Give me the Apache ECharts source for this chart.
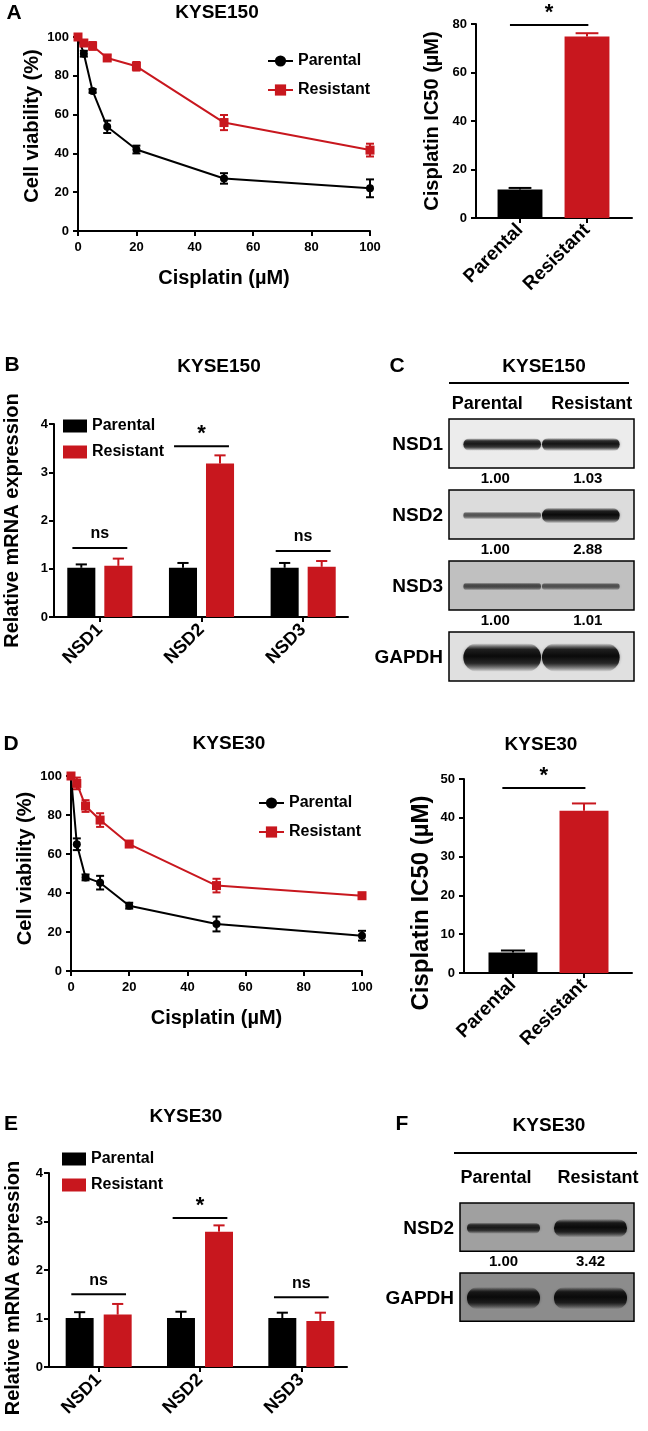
<!DOCTYPE html>
<html><head><meta charset="utf-8">
<script src="https://cdn.jsdelivr.net/npm/echarts@6/dist/echarts.min.js"></script>
<style>html,body{margin:0;padding:0;background:#fff}#c{width:648px;height:1431px}</style>
</head><body><div id="c"></div>
<script>
// ---------------- DATA ----------------
const doses = [0, 2, 5, 10, 20, 50, 100];
const kyse150ViabParental = [100, 91.4, 72.2, 53.7, 42.0, 27.1, 22.0];
const kyse150ViabParentalSEM = [0.5, 1.5, 1.0, 3.2, 2.0, 2.7, 4.6];
const kyse150ViabResistant = [100, 96.9, 95.4, 89.2, 84.9, 55.9, 41.7];
const kyse150ViabResistantSEM = [0.8, 1.0, 2.0, 1.5, 2.2, 3.9, 3.3];

const kyse30ViabParental = [100, 65.0, 48.0, 45.3, 33.5, 24.1, 18.1];
const kyse30ViabParentalSEM = [0.5, 3.0, 1.5, 3.5, 1.5, 3.8, 2.5];
const kyse30ViabResistant = [100, 96.2, 84.6, 77.4, 65.1, 43.8, 38.6];
const kyse30ViabResistantSEM = [1.0, 3.0, 3.0, 3.5, 1.5, 3.5, 1.5];

const groups = ['Parental', 'Resistant'];
const kyse150IC50 = [11.8, 74.8];
const kyse150IC50SEM = [0.6, 1.4];
const kyse30IC50 = [5.3, 41.8];
const kyse30IC50SEM = [0.5, 1.9];
const kyse150IC50Sig = [{a: 0, b: 1, y: 79.6, t: '*'}];
const kyse30IC50Sig = [{a: 0, b: 1, y: 47.7, t: '*'}];

const genes = ['NSD1', 'NSD2', 'NSD3'];
const kyse150MrnaParental = [1.02, 1.02, 1.02];
const kyse150MrnaParentalSEM = [0.07, 0.10, 0.10];
const kyse150MrnaResistant = [1.06, 3.18, 1.04];
const kyse150MrnaResistantSEM = [0.15, 0.17, 0.12];
const kyse150MrnaSig = [{a: 0, b: 0, y: 1.43, t: 'ns'}, {a: 1, b: 1, y: 3.54, t: '*'}, {a: 2, b: 2, y: 1.37, t: 'ns'}];

const kyse30MrnaParental = [1.01, 1.01, 1.01];
const kyse30MrnaParentalSEM = [0.12, 0.13, 0.11];
const kyse30MrnaResistant = [1.08, 2.79, 0.95];
const kyse30MrnaResistantSEM = [0.22, 0.13, 0.17];
const kyse30MrnaSig = [{a: 0, b: 0, y: 1.50, t: 'ns'}, {a: 1, b: 1, y: 3.07, t: '*'}, {a: 2, b: 2, y: 1.44, t: 'ns'}];

const blotCRows = ['NSD1', 'NSD2', 'NSD3', 'GAPDH'];
const blotCQuantParental = [1.00, 1.00, 1.00, null];
const blotCQuantResistant = [1.03, 2.88, 1.01, null];
const blotCSignalParental = [0.55, 0.30, 0.32, 1.00];
const blotCSignalResistant = [0.57, 0.66, 0.28, 1.00];
const blotCBackground = [236, 220, 192, 224];

const blotFRows = ['NSD2', 'GAPDH'];
const blotFQuantParental = [1.00, null];
const blotFQuantResistant = [3.42, null];
const blotFSignalParental = [0.50, 0.85];
const blotFSignalResistant = [0.75, 0.85];
const blotFBackground = [160, 140];

// ---------------- STYLE / BUILD ----------------
const F = 'Arial, "Liberation Sans", Helvetica, sans-serif';
const RED = '#C8171E';
const BLK = '#000000';
const grids = [], xAxes = [], yAxes = [], series = [], legends = [], graphics = [];
const addGrid = g => { grids.push(Object.assign({outerBoundsMode: 'none', containLabel: false}, g)); return grids.length - 1; };
const addX = a => { xAxes.push(a); return xAxes.length - 1; };
const addY = a => { yAxes.push(a); return yAxes.length - 1; };

const axisLineS = {show: true, onZero: false, lineStyle: {color: '#000', width: 2}};
const tickS = {show: true, length: 5, inside: false, lineStyle: {color: '#000', width: 2}};
const tickLabel = m => ({fontSize: 13, fontWeight: 'bold', color: '#000', fontFamily: F, margin: m});
const nameS = (size, pad) => ({fontSize: size, fontWeight: 'bold', color: '#000', fontFamily: F, padding: pad || 0});
const txt = (x, y, text, size) => graphics.push({type: 'text', x: x, y: y, z: 10,
  style: {text: text, fill: '#000', font: 'bold ' + size + 'px ' + F, textAlign: 'center', textVerticalAlign: 'middle', align: 'center', verticalAlign: 'middle'}});

function errXY(color) {
  return function (params, api) {
    const x = api.value(0), y = api.value(1), e = api.value(2);
    const lo = api.coord([x, y - e]), hi = api.coord([x, y + e]);
    const w = 4, st = {stroke: color, lineWidth: 2};
    return {type: 'group', children: [
      {type: 'line', shape: {x1: lo[0], y1: lo[1], x2: hi[0], y2: hi[1]}, style: st},
      {type: 'line', shape: {x1: lo[0] - w, y1: lo[1], x2: lo[0] + w, y2: lo[1]}, style: st},
      {type: 'line', shape: {x1: hi[0] - w, y1: hi[1], x2: hi[0] + w, y2: hi[1]}, style: st}
    ]};
  };
}
function errUp(colors, offFrac, capFrac) {
  return function (params, api) {
    const i = api.value(0), v = api.value(1), e = api.value(2);
    const bw = api.size([1, 0])[0];
    const p = api.coord([i, v]), q = api.coord([i, v + e]);
    const x = p[0] + offFrac * bw, w = capFrac * bw;
    const c = Array.isArray(colors) ? colors[params.dataIndex] : colors;
    const st = {stroke: c, lineWidth: 2};
    return {type: 'group', children: [
      {type: 'line', shape: {x1: x, y1: p[1], x2: x, y2: q[1]}, style: st},
      {type: 'line', shape: {x1: x - w, y1: q[1], x2: x + w, y2: q[1]}, style: st}
    ]};
  };
}
function sigRender(sigs, lo, hi) {
  return function (params, api) {
    const d = sigs[params.dataIndex];
    const p0 = api.coord([d.a, d.y]), p1 = api.coord([d.b, d.y]);
    const bw = api.size([1, 0])[0];
    const x1 = p0[0] + lo * bw, x2 = p1[0] + hi * bw, y = p0[1];
    const star = d.t === '*';
    return {type: 'group', children: [
      {type: 'line', shape: {x1: x1, y1: y, x2: x2, y2: y}, style: {stroke: '#000', lineWidth: 2}},
      {type: 'text', x: (x1 + x2) / 2, y: y - (star ? 1 : 6),
        style: {text: d.t, fill: '#000', font: 'bold ' + (star ? 22 : 16) + 'px ' + F, textAlign: 'center', textVerticalAlign: 'bottom', align: 'center', verticalAlign: 'bottom'}}
    ]};
  };
}

function linePanel(key, g, par, parE, res, resE, yPad, legendPos) {
  const gi = addGrid(g);
  const xi = addX({gridIndex: gi, type: 'value', min: 0, max: 100, interval: 20, axisLine: axisLineS, axisTick: tickS,
    axisLabel: tickLabel(10), splitLine: {show: false}, name: 'Cisplatin (µM)', nameLocation: 'middle', nameGap: 37, nameTextStyle: nameS(20)});
  const yi = addY({gridIndex: gi, type: 'value', min: 0, max: 100, interval: 20, axisLine: axisLineS, axisTick: tickS,
    axisLabel: tickLabel(9), splitLine: {show: false}, name: 'Cell viability (%)', nameLocation: 'middle', nameGap: 36, nameTextStyle: nameS(20, yPad)});
  const common = {xAxisIndex: xi, yAxisIndex: yi};
  series.push(Object.assign({type: 'custom', z: 1, renderItem: errXY(BLK), data: doses.map((d, i) => [d, par[i], parE[i]])}, common));
  series.push(Object.assign({type: 'custom', z: 1, renderItem: errXY(RED), data: doses.map((d, i) => [d, res[i], resE[i]])}, common));
  series.push(Object.assign({type: 'line', name: key + ':Parental', z: 3, data: doses.map((d, i) => [d, par[i]]), symbol: 'circle', symbolSize: 8,
    itemStyle: {color: BLK}, lineStyle: {color: BLK, width: 2}}, common));
  series.push(Object.assign({type: 'line', name: key + ':Resistant', z: 4, data: doses.map((d, i) => [d, res[i]]), symbol: 'rect', symbolSize: 9,
    itemStyle: {color: RED}, lineStyle: {color: RED, width: 2}}, common));
  legends.push({data: [key + ':Parental', key + ':Resistant'], orient: 'vertical', left: legendPos[0], top: legendPos[1], padding: 0,
    itemWidth: 25, itemHeight: 14, itemGap: 13, selectedMode: false, formatter: n => n.split(':')[1],
    textStyle: {fontSize: 16, fontWeight: 'bold', color: '#000', fontFamily: F}});
}

function ic50Panel(frame, plot, max, interval, vals, sem, sigs, yFont, yGap, yPad, barPct) {
  const fg = addGrid(frame);
  addX({gridIndex: fg, type: 'value', min: 0, max: 1, axisLine: axisLineS, axisTick: {show: false}, axisLabel: {show: false}, splitLine: {show: false}});
  addY({gridIndex: fg, type: 'value', min: 0, max: max, interval: interval, axisLine: axisLineS, axisTick: tickS, axisLabel: tickLabel(9),
    splitLine: {show: false}, name: 'Cisplatin IC50 (µM)', nameLocation: 'middle', nameGap: yGap, nameTextStyle: nameS(yFont, yPad)});
  const pg = addGrid(plot);
  const xi = addX({gridIndex: pg, type: 'category', data: groups, axisLine: {show: false},
    axisTick: {show: true, alignWithLabel: true, length: 5, lineStyle: {color: '#000', width: 2}},
    axisLabel: {rotate: 45, interval: 0, fontSize: 19, fontWeight: 'bold', color: '#000', fontFamily: F, margin: 9}});
  const yi = addY({gridIndex: pg, type: 'value', min: 0, max: max, show: false, splitLine: {show: false}});
  const colors = [BLK, RED];
  series.push({type: 'bar', xAxisIndex: xi, yAxisIndex: yi, barWidth: barPct, z: 2,
    data: vals.map((v, i) => ({value: v, itemStyle: {color: colors[i]}}))});
  series.push({type: 'custom', xAxisIndex: xi, yAxisIndex: yi, z: 3, renderItem: errUp(colors, 0, 0.17), data: vals.map((v, i) => [i, v, sem[i]])});
  series.push({type: 'custom', xAxisIndex: xi, yAxisIndex: yi, z: 3, renderItem: sigRender(sigs, -0.15, 0.02), data: sigs.map(s => [s.a, s.y])});
}

function mrnaPanel(key, frame, plot, par, parE, res, resE, sigs, yGap, yPad, legendPos, gapPct) {
  const fg = addGrid(frame);
  addX({gridIndex: fg, type: 'value', min: 0, max: 1, axisLine: axisLineS, axisTick: {show: false}, axisLabel: {show: false}, splitLine: {show: false}});
  addY({gridIndex: fg, type: 'value', min: 0, max: 4, interval: 1, axisLine: axisLineS, axisTick: tickS, axisLabel: tickLabel(6),
    splitLine: {show: false}, name: 'Relative mRNA expression', nameLocation: 'middle', nameGap: yGap, nameTextStyle: nameS(20, yPad)});
  const pg = addGrid(plot);
  const xi = addX({gridIndex: pg, type: 'category', data: genes, axisLine: {show: false},
    axisTick: {show: true, alignWithLabel: true, length: 5, lineStyle: {color: '#000', width: 2}},
    axisLabel: {rotate: 45, interval: 0, fontSize: 18, fontWeight: 'bold', color: '#000', fontFamily: F, margin: 10}});
  const yi = addY({gridIndex: pg, type: 'value', min: 0, max: 4, show: false, splitLine: {show: false}});
  const bwPct = 0.276, gap = gapPct;
  const off = bwPct * (1 + gap) / 2;
  series.push({type: 'bar', name: key + ':Parental', xAxisIndex: xi, yAxisIndex: yi, barWidth: (bwPct * 100) + '%', barGap: (gap * 100) + '%',
    itemStyle: {color: BLK}, data: par, z: 2});
  series.push({type: 'bar', name: key + ':Resistant', xAxisIndex: xi, yAxisIndex: yi, barWidth: (bwPct * 100) + '%', barGap: (gap * 100) + '%',
    itemStyle: {color: RED}, data: res, z: 2});
  series.push({type: 'custom', xAxisIndex: xi, yAxisIndex: yi, z: 3, renderItem: errUp(BLK, -off, 0.055), data: par.map((v, i) => [i, v, parE[i]])});
  series.push({type: 'custom', xAxisIndex: xi, yAxisIndex: yi, z: 3, renderItem: errUp(RED, off, 0.055), data: res.map((v, i) => [i, v, resE[i]])});
  series.push({type: 'custom', xAxisIndex: xi, yAxisIndex: yi, z: 3, renderItem: sigRender(sigs, -0.27, 0.27), data: sigs.map(s => [s.a, s.y])});
  legends.push({data: [key + ':Parental', key + ':Resistant'], orient: 'vertical', left: legendPos[0], top: legendPos[1], padding: 0,
    icon: 'rect', itemWidth: 24, itemHeight: 13, itemGap: 10, selectedMode: false, formatter: n => n.split(':')[1],
    textStyle: {fontSize: 16, fontWeight: 'bold', color: '#000', fontFamily: F}});
}

function blotPanel(g, rows, qP, qR, sP, sR, bg, headMargin, headPads, spread) {
  const gi = addGrid(g);
  const xi = addX({gridIndex: gi, type: 'category', position: 'top',
    data: groups.map((n, i) => ({value: n, textStyle: {padding: headPads[i]}})),
    axisLine: {show: false}, axisTick: {show: false}, splitLine: {show: false},
    axisLabel: {interval: 0, hideOverlap: false, fontSize: 18, fontWeight: 'bold', color: '#000', fontFamily: F, margin: headMargin}});
  const yi = addY({gridIndex: gi, type: 'category', inverse: true, data: rows,
    axisLine: {show: false}, axisTick: {show: false}, splitLine: {show: false},
    axisLabel: {interval: 0, fontSize: 19, fontWeight: 'bold', color: '#000', fontFamily: F, margin: 6, verticalAlign: 'bottom'}});
  series.push({type: 'custom', xAxisIndex: xi, yAxisIndex: yi, z: 1, data: rows.map((r, i) => [0, i]),
    renderItem: function (params, api) {
      const cs = params.coordSys, c = api.coord([0, api.value(1)]), bh = api.size([0, 1])[1];
      const top = c[1] - bh / 2, h = bh * 0.69, v = bg[params.dataIndex];
      return {type: 'rect', shape: {x: cs.x, y: top, width: cs.width, height: h},
        style: {fill: 'rgb(' + v + ',' + v + ',' + v + ')', stroke: '#000', lineWidth: 1.5}};
    }});
  const bandData = [], quants = [];
  rows.forEach((r, i) => { bandData.push([0, i, sP[i]]); quants.push(qP[i]); bandData.push([1, i, sR[i]]); quants.push(qR[i]); });
  series.push({type: 'custom', xAxisIndex: xi, yAxisIndex: yi, z: 2, data: bandData,
    renderItem: function (params, api) {
      const cs = params.coordSys, lane = api.value(0), row = api.value(1), s = api.value(2);
      const c = api.coord([lane, row]), bh = api.size([0, 1])[1], lw = api.size([1, 0])[0];
      const top = c[1] - bh / 2, h = bh * 0.69, mid = cs.x + cs.width / 2;
      const cx = mid + (c[0] - mid) * spread, cy = top + h / 2 + 1;
      const th = 3 + 12 * s * s, a = Math.min(1, 0.25 + 1.2 * s), len = lw * 0.84;
      const col = al => 'rgba(10,10,10,' + al + ')';
      const soft = th * 1.9;
      const grad = new echarts.graphic.LinearGradient(0, 0, 0, 1, [
        {offset: 0, color: col(0)}, {offset: 0.22, color: col(a * 0.85)}, {offset: 0.45, color: col(a)},
        {offset: 0.7, color: col(a * 0.8)}, {offset: 1, color: col(0)}]);
      const ch = [{type: 'rect', shape: {x: cx - len / 2, y: cy - soft / 2, width: len, height: soft, r: soft / 2},
        style: {fill: grad, shadowBlur: 3, shadowColor: col(a * 0.4)}}];
      const q = quants[params.dataIndex];
      if (q != null) ch.push({type: 'text', x: c[0], y: top + h + 11,
        style: {text: q.toFixed(2), fill: '#000', font: 'bold 15px ' + F, textAlign: 'center', textVerticalAlign: 'middle', align: 'center', verticalAlign: 'middle'}});
      return {type: 'group', children: ch};
    }});
}

// ---------------- PANELS ----------------
linePanel('A', {left: 78, top: 37, width: 292, height: 194}, kyse150ViabParental, kyse150ViabParentalSEM, kyse150ViabResistant, kyse150ViabResistantSEM, [0, 0, 0, 16], [267, 53]);
ic50Panel({left: 476, top: 24, width: 156, height: 194}, {left: 486.5, top: 24, width: 134, height: 194}, 80, 20, kyse150IC50, kyse150IC50SEM, kyse150IC50Sig, 20, 34, 0, '67%');
mrnaPanel('B', {left: 54, top: 424, width: 294, height: 193}, {left: 49, top: 424, width: 305, height: 193},
  kyse150MrnaParental, kyse150MrnaParentalSEM, kyse150MrnaResistant, kyse150MrnaResistantSEM, kyse150MrnaSig, 32, 0, [63, 418], 0.32);
blotPanel({left: 449, top: 419, width: 185, height: 284}, blotCRows, blotCQuantParental, blotCQuantResistant,
  blotCSignalParental, blotCSignalResistant, blotCBackground, 6, [[0, 16, 0, 0], [0, 0, 0, 8]], 0.85);
linePanel('D', {left: 71, top: 776, width: 291, height: 195}, kyse30ViabParental, kyse30ViabParentalSEM, kyse30ViabResistant, kyse30ViabResistantSEM, [0, 0, 0, 10], [258, 795]);
ic50Panel({left: 464, top: 779, width: 168, height: 194}, {left: 477.5, top: 779, width: 142, height: 194}, 50, 10, kyse30IC50, kyse30IC50SEM, kyse30IC50Sig, 24, 31, [0, 54, 0, 0], '69%');
mrnaPanel('E', {left: 49, top: 1173, width: 298, height: 194}, {left: 48, top: 1173, width: 304, height: 194},
  kyse30MrnaParental, kyse30MrnaParentalSEM, kyse30MrnaResistant, kyse30MrnaResistantSEM, kyse30MrnaSig, 26, [0, 36, 0, 0], [62, 1151], 0.36);
blotPanel({left: 460, top: 1203, width: 174, height: 140}, blotFRows, blotFQuantParental, blotFQuantResistant,
  blotFSignalParental, blotFSignalResistant, blotFBackground, 16, [[0, 15, 0, 0], [0, 0, 0, 15]], 1.0);

// titles and panel letters
txt(217, 13, 'KYSE150', 19); txt(219, 367, 'KYSE150', 19); txt(544, 367, 'KYSE150', 19);
txt(229, 744, 'KYSE30', 19); txt(541, 745, 'KYSE30', 19); txt(186, 1117, 'KYSE30', 19); txt(549, 1126, 'KYSE30', 19);
txt(14, 13, 'A', 21); txt(12, 365, 'B', 21); txt(397, 366, 'C', 21); txt(11, 744, 'D', 21); txt(11, 1124, 'E', 21); txt(402, 1124, 'F', 21);
graphics.push({type: 'line', shape: {x1: 449, y1: 383, x2: 629, y2: 383}, style: {stroke: '#000', lineWidth: 2}});
graphics.push({type: 'line', shape: {x1: 454, y1: 1153, x2: 637, y2: 1153}, style: {stroke: '#000', lineWidth: 2}});

const chart = echarts.init(document.getElementById('c'), null, {renderer: 'canvas'});
chart.setOption({animation: false, backgroundColor: '#ffffff', grid: grids, xAxis: xAxes, yAxis: yAxes, series: series, legend: legends, graphic: {elements: graphics}});
</script></body></html>
